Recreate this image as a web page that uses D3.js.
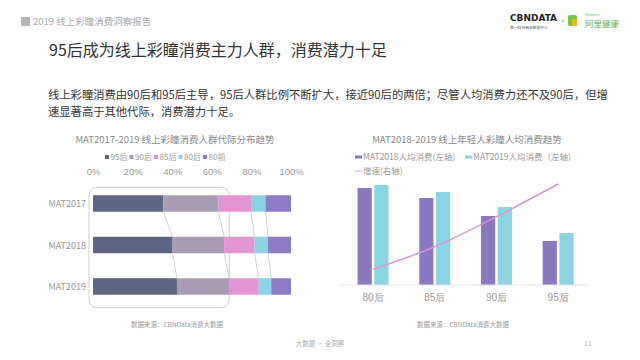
<!DOCTYPE html>
<html>
<head>
<meta charset="utf-8">
<script src="https://cdn.jsdelivr.net/npm/d3@7"></script>
<style>
  body { margin: 0; background: #fff; }
  svg { display: block; font-family: "Noto Sans CJK SC", "Noto Sans", sans-serif; }
</style>
</head>
<body>
<svg id="chart" width="640" height="360"></svg>
<script>
// left chart: generation share per MAT year (%)
const years = ['MAT2017', 'MAT2018', 'MAT2019'];
const generations = ['95后', '90后', '85后', '80后', '80前'];
const share95 = [35.5, 40.2, 42.4];
const share90 = [27.9, 26.0, 26.4];
const share85 = [16.4, 15.4, 14.9];
const share80 = [7.3, 6.8, 6.3];
const shareBefore80 = [12.9, 11.6, 10.0];
const pctTicks = [0, 20, 40, 60, 80, 100];

// right chart: spend per head (index) and growth
const ageGroups = ['80后', '85后', '90后', '95后'];
const spend2018 = [97, 87, 69, 44];
const spend2019 = [100, 93, 78, 52];
const growth = [6.3, 15.3, 27.3, 40.4];
const spendSeries = ['MAT2018人均消费(左轴)', 'MAT2019人均消费（左轴)'];
const growthLabel = '增速(右轴)';

const GEN_COLORS = ['#5d6582', '#a99db5', '#e294d3', '#89d4e4', '#8d7bc6'];
const BAR_COLORS = ['#8a78c2', '#8ad5e3'];
const LINE_COLOR = '#d796d6';

const svg = d3.select('#chart');

// header
svg.append('rect').attr('x', 21).attr('y', 17).attr('width', 9).attr('height', 9).attr('fill', '#b5b5b5');
svg.append('text').attr('x', 33).attr('y', 25).attr('font-size', 9.5).attr('fill', '#aaa')
  .text('2019 线上彩瞳消费洞察报告');

// logos
const logo = svg.append('g');
logo.append('text').attr('x', 510).attr('y', 21).attr('font-size', 9).attr('font-weight', 'bold')
  .attr('font-family', 'DejaVu Sans, sans-serif').attr('fill', '#222')
  .attr('textLength', 47).attr('lengthAdjust', 'spacingAndGlyphs').text('CBNDATA');
logo.append('text').attr('x', 510).attr('y', 29).attr('font-size', 3.8).attr('fill', '#555').text('第一财经商业数据中心');
logo.append('text').attr('x', 560).attr('y', 23).attr('font-size', 6).attr('fill', '#999').text('×');
logo.append('rect').attr('x', 568).attr('y', 15).attr('width', 9).attr('height', 11).attr('rx', 2).attr('fill', '#7cc242');
logo.append('rect').attr('x', 572).attr('y', 19).attr('width', 5).attr('height', 7).attr('fill', '#f2b51c');
logo.append('text').attr('x', 585).attr('y', 16).attr('font-size', 3.5).attr('fill', '#7cc242').text('Alihealth');
logo.append('text').attr('x', 585).attr('y', 27).attr('font-size', 8.5).attr('fill', '#58b84a').text('阿里健康');

// headline + paragraph
svg.append('text').attr('x', 49).attr('y', 56).attr('font-size', 16).attr('fill', '#333')
  .text('95后成为线上彩瞳消费主力人群，消费潜力十足');
svg.append('text').attr('x', 48).attr('y', 99).attr('font-size', 11.3).attr('fill', '#333')
  .text('线上彩瞳消费由90后和95后主导，95后人群比例不断扩大，接近90后的两倍；尽管人均消费力还不及90后，但增');
svg.append('text').attr('x', 48).attr('y', 116).attr('font-size', 11.3).attr('fill', '#333')
  .text('速显著高于其他代际，消费潜力十足。');

// ---------- left chart ----------
const left = svg.append('g');
left.append('text').attr('x', 175).attr('y', 143).attr('text-anchor', 'middle')
  .attr('font-size', 9.5).attr('fill', '#888').text('MAT2017-2019 线上彩瞳消费人群代际分布趋势');

const shares = [share95, share90, share85, share80, shareBefore80];
const rows = years.map((y, i) => {
  let acc = 0;
  return {
    year: y,
    segs: shares.map((s, k) => {
      const seg = { gen: generations[k], x0: acc, x1: acc + s[i] };
      acc += s[i];
      return seg;
    })
  };
});

const x = d3.scaleLinear().domain([0, 100]).range([93, 291]);
const y = d3.scalePoint().domain(years).range([203.5, 286.5]);
const barH = 16.5;

// legend
const lg = left.append('g').attr('transform', 'translate(105,157)');
const lgItem = lg.selectAll('g').data(generations).enter().append('g')
  .attr('transform', (d, i) => 'translate(' + (i * 24.5) + ',0)');
lgItem.append('rect').attr('x', 0).attr('y', -2).attr('width', 4).attr('height', 4)
  .attr('fill', (d, i) => GEN_COLORS[i]);
lgItem.append('text').attr('x', 5.5).attr('y', 3).attr('font-size', 8).attr('fill', '#999').text(d => d);

// top percent axis
const xAxis = d3.axisTop(x).tickValues(pctTicks).tickFormat(d => d + '%').tickSize(0).tickPadding(0);
const xg = left.append('g').attr('transform', 'translate(0,175)').call(xAxis);
xg.select('.domain').remove();
xg.selectAll('text').attr('font-size', 9.5).attr('fill', '#999').attr('font-family', 'inherit');

// highlight frame round 95后 + 90后
const frameRight = d3.max(rows, r => x(r.segs[1].x1));
left.append('rect')
  .attr('x', x(0) - 4).attr('y', y(years[0]) - barH / 2 - 8)
  .attr('width', frameRight - x(0) + 4).attr('height', y(years[2]) - y(years[0]) + barH + 21)
  .attr('rx', 8).attr('fill', 'none').attr('stroke', '#cfcfcf').attr('stroke-width', 1);

// bars
const rowG = left.selectAll('.row').data(rows).enter().append('g').attr('class', 'row');
rowG.selectAll('rect').data(d => d.segs.map(s => Object.assign({ year: d.year }, s))).enter().append('rect')
  .attr('x', d => x(d.x0))
  .attr('y', d => y(d.year) - barH / 2)
  .attr('width', d => x(d.x1) - x(d.x0))
  .attr('height', barH)
  .attr('fill', (d, i) => GEN_COLORS[i]);

// connector lines between boundaries
for (let i = 0; i < rows.length - 1; i++) {
  for (let k = 0; k < generations.length - 1; k++) {
    left.append('line')
      .attr('x1', x(rows[i].segs[k].x1)).attr('y1', y(years[i]) + barH / 2)
      .attr('x2', x(rows[i + 1].segs[k].x1)).attr('y2', y(years[i + 1]) - barH / 2)
      .attr('stroke', '#bdbdbd').attr('stroke-width', 0.7);
  }
}

// year labels
left.selectAll('.ylab').data(years).enter().append('text')
  .attr('x', 86).attr('y', d => y(d) + 3.5).attr('text-anchor', 'end')
  .attr('font-size', 9).attr('fill', '#999').text(d => d);

left.append('text').attr('x', 177).attr('y', 327).attr('text-anchor', 'middle')
  .attr('font-size', 6.5).attr('fill', '#999').text('数据来源：CBNData消费大数据');

// ---------- right chart ----------
const right = svg.append('g');
right.append('text').attr('x', 467).attr('y', 143).attr('text-anchor', 'middle')
  .attr('font-size', 9.5).attr('fill', '#888').text('MAT2018-2019 线上年轻人彩瞳人均消费趋势');

// legend
const rl = right.append('g');
const rlItem = rl.selectAll('g').data(spendSeries).enter().append('g')
  .attr('transform', (d, i) => 'translate(' + (355 + i * 110) + ',157)');
rlItem.append('rect').attr('x', 0).attr('y', -1.5).attr('width', 7).attr('height', 3)
  .attr('fill', (d, i) => BAR_COLORS[i]);
rlItem.append('text').attr('x', 8).attr('y', 3).attr('font-size', 8.5).attr('fill', '#999').text(d => d);
rl.append('line').attr('x1', 355).attr('x2', 362).attr('y1', 171).attr('y2', 171)
  .attr('stroke', LINE_COLOR).attr('stroke-width', 1);
rl.append('text').attr('x', 363).attr('y', 174).attr('font-size', 8.5).attr('fill', '#999').text(growthLabel);

const xb = d3.scaleBand().domain(ageGroups).range([342.2, 589]);
const xs = d3.scaleBand().domain(spendSeries).range([0, 31]).paddingInner(0.15);
const yL = d3.scaleLinear().domain([0, 100]).range([285, 185]);
const yR = d3.scaleLinear().domain([0, 40]).range([285, 185]);

const spend = [spend2018, spend2019];
const grp = right.selectAll('.grp').data(ageGroups).enter().append('g')
  .attr('transform', d => 'translate(' + (xb(d) + xb.bandwidth() / 2 - 15.5) + ',0)');
grp.selectAll('rect').data((d, i) => spendSeries.map((s, k) => ({ s: s, v: spend[k][i], k: k }))).enter()
  .append('rect')
  .attr('x', d => xs(d.s))
  .attr('y', d => yL(d.v))
  .attr('width', xs.bandwidth())
  .attr('height', d => yL(0) - yL(d.v))
  .attr('fill', d => BAR_COLORS[d.k]);

// baseline + category labels
const xAxisR = d3.axisBottom(xb).tickSize(0).tickPadding(9);
const xgR = right.append('g').attr('transform', 'translate(0,285)').call(xAxisR);
xgR.select('.domain').attr('stroke', '#e4e4e4').attr('transform', 'translate(340,0)').attr('d', 'M0,0H247');
xgR.selectAll('text').attr('font-size', 10).attr('fill', '#999').attr('font-family', 'inherit');

// growth line
const line = d3.line()
  .x((d, i) => xb(ageGroups[i]) + xb.bandwidth() / 2)
  .y(d => yR(d))
  .curve(d3.curveMonotoneX);
right.append('path').datum(growth).attr('d', line)
  .attr('fill', 'none').attr('stroke', LINE_COLOR).attr('stroke-width', 1.5);

right.append('text').attr('x', 463).attr('y', 327).attr('text-anchor', 'middle')
  .attr('font-size', 6.5).attr('fill', '#999').text('数据来源：CBNData消费大数据');

// footer
svg.append('text').attr('x', 320).attr('y', 346).attr('text-anchor', 'middle')
  .attr('font-size', 6.5).attr('fill', '#aaa').text('大数据 · 全洞察');
svg.append('text').attr('x', 588).attr('y', 346).attr('text-anchor', 'middle')
  .attr('font-size', 6.5).attr('fill', '#aaa').text('11');
</script>
</body>
</html>
